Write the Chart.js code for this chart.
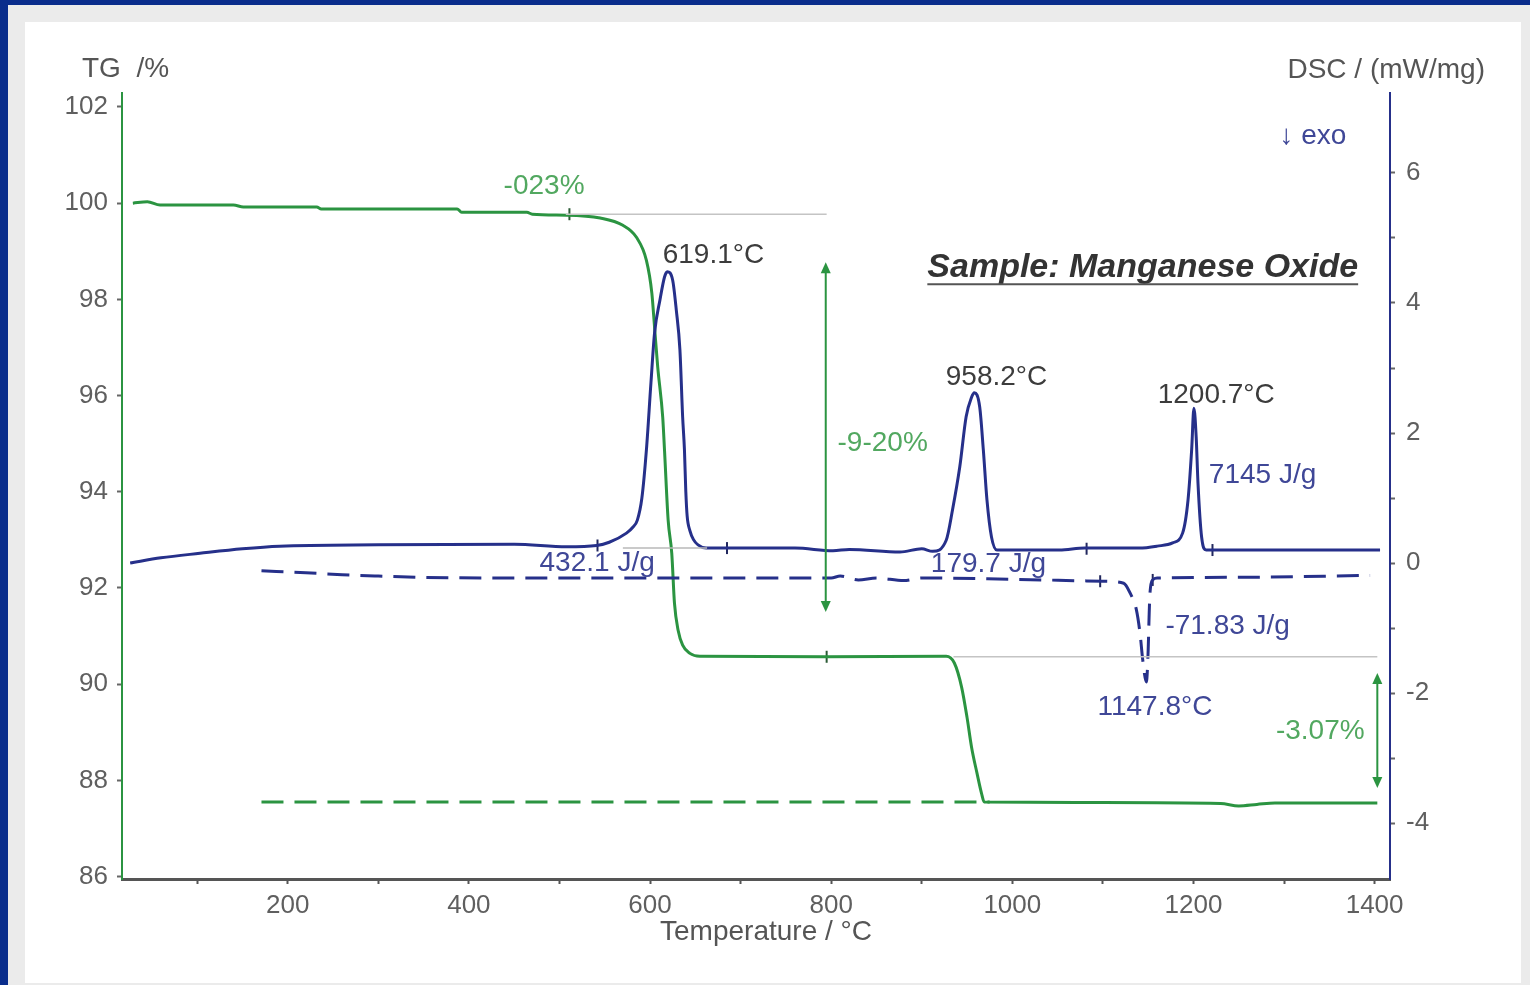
<!DOCTYPE html>
<html>
<head>
<meta charset="utf-8">
<title>TG / DSC - Manganese Oxide</title>
<script src="https://cdn.jsdelivr.net/npm/chart.js@4.4.1/dist/chart.umd.min.js"></script>
<style>
  html, body { margin: 0; padding: 0; }
  body { width: 1530px; height: 985px; background: #0a2d8c; position: relative; overflow: hidden; }
  #frame { position: absolute; left: 8px; top: 5px; width: 1522px; height: 980px; background: #ebebeb; }
  #panel { position: absolute; left: 25px; top: 22px; width: 1496px; height: 961px; background: #fff; }
  #chart { position: absolute; left: 0; top: 0; }
</style>
</head>
<body>
<div id="frame"></div>
<div id="panel"></div>
<canvas id="chart" width="1530" height="985"></canvas>
<script>
// --- data ---
var tgTemp = [29, 45, 59, 140, 151, 232, 237, 387, 392, 464, 470, 508, 545, 570, 585, 596, 602, 605, 608.5, 614, 616, 620, 624, 627, 631, 636, 644, 655, 793, 927, 936, 944, 950, 955, 961, 966, 969, 1100, 1230, 1250, 1270, 1290, 1403];
var tgVal  = [100.0, 100.03, 99.96, 99.96, 99.92, 99.92, 99.88, 99.88, 99.81, 99.81, 99.77, 99.75, 99.69, 99.54, 99.29, 98.81, 98.13, 97.42, 96.59, 95.55, 94.86, 93.41, 92.72, 91.68, 91.12, 90.81, 90.64, 90.58, 90.57, 90.58, 90.44, 89.94, 89.31, 88.69, 88.15, 87.73, 87.55, 87.54, 87.52, 87.47, 87.5, 87.53, 87.53];

var tgDashTemp = [171, 975];
var tgDashVal  = [87.55, 87.55];

var dscTemp = [26, 60, 103, 150, 191, 300, 450, 508, 541, 555, 574, 581, 586, 591, 596, 601, 605, 611, 616, 619, 625, 629, 633, 636, 638, 639.5, 641, 644, 648, 653, 662, 760, 802, 820, 876, 900, 912, 927, 934, 942, 949, 955, 958, 964, 968, 972, 977, 983, 1052, 1080, 1140, 1160, 1177, 1188, 1194, 1198, 1200.5, 1203, 1205, 1209, 1214, 1300, 1406];
var dscVal  = [0.0, 0.08, 0.15, 0.22, 0.26, 0.28, 0.29, 0.25, 0.27, 0.32, 0.46, 0.55, 0.66, 1.0, 1.74, 2.77, 3.54, 4.05, 4.40, 4.48, 4.35, 3.89, 3.28, 2.25, 1.74, 1.1, 0.72, 0.5, 0.36, 0.28, 0.23, 0.23, 0.19, 0.21, 0.17, 0.22, 0.18, 0.35, 0.82, 1.48, 2.25, 2.55, 2.62, 2.40, 1.74, 0.97, 0.40, 0.20, 0.20, 0.23, 0.23, 0.26, 0.31, 0.46, 0.97, 1.74, 2.38, 1.94, 1.23, 0.40, 0.20, 0.20, 0.20];

var dscDashTemp = [171, 220, 260, 300, 350, 450, 550, 650, 750, 800, 810, 830, 850, 880, 900, 1000, 1100, 1123, 1130, 1137, 1141, 1144, 1148, 1150, 1151, 1152, 1155, 1160, 1250, 1395];
var dscDashVal  = [-0.12, -0.15, -0.18, -0.20, -0.22, -0.23, -0.23, -0.23, -0.23, -0.23, -0.20, -0.26, -0.23, -0.27, -0.23, -0.25, -0.28, -0.31, -0.46, -0.72, -1.08, -1.49, -1.83, -1.34, -0.83, -0.46, -0.26, -0.23, -0.22, -0.19];

// thin grey evaluation baselines
var tgBase1Temp = [507, 795],  tgBase1Val = [99.77, 99.77];
var tgBase2Temp = [935, 1403], tgBase2Val = [90.57, 90.57];
var dscBaseTemp = [570, 663],  dscBaseVal = [0.23, 0.23];

// small evaluation markers on the curves
var tgMarkTemp  = [511, 795];
var tgMarkVal   = [99.77, 90.57];
var dscMarkTemp = [542, 685, 1082, 1221];
var dscMarkVal  = [0.27, 0.23, 0.22, 0.20];
var dscDashMarkTemp = [1097, 1155];
var dscDashMarkVal  = [-0.28, -0.26];

// axis ticks
var xTicks  = [100, 200, 300, 400, 500, 600, 700, 800, 900, 1000, 1100, 1200, 1300, 1400];
var tgTicks = [86, 88, 90, 92, 94, 96, 98, 100, 102];
var dscTicks = [-4, -3, -2, -1, 0, 1, 2, 3, 4, 5, 6];

// step arrows [temp, from, to] on TG axis
var tgSteps = [[794, 98.77, 91.50], [1403, 90.23, 87.84]];

// labels [text, temp, value, axis, colour, align]
var notes = [
  ['-023%', 483, 100.35, 'yL', '#52a860', 'center'],
  ['619.1°C', 614, 98.92, 'yL', '#3c3c3c', 'left'],
  ['-9-20%', 807, 95.01, 'yL', '#52a860', 'left'],
  ['-3.07%', 1389, 89.02, 'yL', '#52a860', 'right'],
  ['958.2°C', 926.5, 2.86, 'yR', '#3c3c3c', 'left'],
  ['1200.7°C', 1160.5, 2.58, 'yR', '#3c3c3c', 'left'],
  ['7145 J/g', 1217, 1.35, 'yR', '#3f4797', 'left'],
  ['432.1 J/g', 478, 0.0, 'yR', '#3f4797', 'left'],
  ['179.7 J/g', 910, -0.02, 'yR', '#3f4797', 'left'],
  ['-71.83 J/g', 1169, -0.98, 'yR', '#3f4797', 'left'],
  ['1147.8°C', 1094, -2.22, 'yR', '#3f4797', 'left'],
  ['↓ exo', 1295, 6.56, 'yR', '#3f4797', 'left']
];

function pts(xs, ys) {
  return xs.map(function(x, i) { return { x: x, y: ys[i] }; });
}

var GREEN = '#2b9441';
var NAVY = '#26308a';
var FONT = "'Liberation Sans', Arial, sans-serif";

Chart.defaults.font.family = FONT;
Chart.defaults.font.size = 26;
Chart.defaults.color = '#5a5a5a';

function arrowHead(ctx, x, y, dir) {
  ctx.beginPath();
  ctx.moveTo(x, y);
  ctx.lineTo(x - 5, y - dir * 11);
  ctx.lineTo(x + 5, y - dir * 11);
  ctx.closePath();
  ctx.fill();
}

var notesPlugin = {
  id: 'notes',
  afterDatasetsDraw: function(chart) {
    var ctx = chart.ctx;
    var sx = chart.scales.x, sl = chart.scales.yL, sr = chart.scales.yR;
    var area = chart.chartArea;
    ctx.save();

    // --- step arrows ---
    ctx.strokeStyle = GREEN;
    ctx.fillStyle = GREEN;
    ctx.lineWidth = 2;
    tgSteps.forEach(function(s) {
      var x = sx.getPixelForValue(s[0]);
      var y1 = sl.getPixelForValue(s[1]);
      var y2 = sl.getPixelForValue(s[2]);
      ctx.beginPath();
      ctx.moveTo(x, y1 + 4);
      ctx.lineTo(x, y2 - 4);
      ctx.stroke();
      arrowHead(ctx, x, y1, -1);
      arrowHead(ctx, x, y2, 1);
    });

    // --- annotation texts ---
    ctx.font = '28px ' + FONT;
    ctx.textBaseline = 'middle';
    notes.forEach(function(n) {
      var sc = n[3] === 'yL' ? sl : sr;
      ctx.fillStyle = n[4];
      ctx.textAlign = n[5];
      ctx.fillText(n[0], sx.getPixelForValue(n[1]), sc.getPixelForValue(n[2]));
    });

    // --- sample title ---
    var tx = sx.getPixelForValue(1144), ty = sr.getPixelForValue(4.55);
    ctx.font = 'italic bold 34px ' + FONT;
    ctx.fillStyle = '#333';
    ctx.textAlign = 'center';
    var title = 'Sample: Manganese Oxide';
    ctx.fillText(title, tx, ty);
    var w = ctx.measureText(title).width;
    ctx.strokeStyle = '#555';
    ctx.lineWidth = 2;
    ctx.beginPath();
    ctx.moveTo(tx - w / 2, ty + 17);
    ctx.lineTo(tx + w / 2, ty + 17);
    ctx.stroke();

    // --- axis titles ---
    ctx.font = '28px ' + FONT;
    ctx.fillStyle = '#555';
    ctx.textAlign = 'left';
    ctx.fillText('TG  /%', area.left - 40, area.top - 24);
    ctx.textAlign = 'right';
    ctx.fillText('DSC / (mW/mg)', area.right + 95, area.top - 23);
    ctx.textAlign = 'center';
    ctx.fillText('Temperature / °C', (area.left + area.right) / 2 + 10, area.bottom + 53);

    ctx.restore();
  }
};

var ctx = document.getElementById('chart').getContext('2d');

var chart = new Chart(ctx, {
  type: 'scatter',
  data: {
    datasets: [
      { data: pts(tgBase1Temp, tgBase1Val), yAxisID: 'yL', showLine: true, borderColor: '#c4c4c4', borderWidth: 1.5, pointRadius: 0 },
      { data: pts(tgBase2Temp, tgBase2Val), yAxisID: 'yL', showLine: true, borderColor: '#c4c4c4', borderWidth: 1.5, pointRadius: 0 },
      { data: pts(dscBaseTemp, dscBaseVal), yAxisID: 'yR', showLine: true, borderColor: '#b8b8b8', borderWidth: 1.5, pointRadius: 0 },
      { data: pts(tgDashTemp, tgDashVal), yAxisID: 'yL', showLine: true, borderColor: GREEN, borderWidth: 3, borderDash: [22, 11], pointRadius: 0 },
      { data: pts(dscDashTemp, dscDashVal), yAxisID: 'yR', showLine: true, borderColor: NAVY, borderWidth: 3, borderDash: [22, 11], pointRadius: 0, cubicInterpolationMode: 'monotone' },
      { data: pts(dscTemp, dscVal), yAxisID: 'yR', showLine: true, borderColor: NAVY, borderWidth: 3, pointRadius: 0, cubicInterpolationMode: 'monotone' },
      { data: pts(tgTemp, tgVal), yAxisID: 'yL', showLine: true, borderColor: GREEN, borderWidth: 3, pointRadius: 0, cubicInterpolationMode: 'monotone' },
      { data: pts(tgMarkTemp, tgMarkVal), yAxisID: 'yL', pointStyle: 'line', rotation: 90, pointRadius: 6, borderColor: '#2a5a34', borderWidth: 2 },
      { data: pts(dscMarkTemp, dscMarkVal), yAxisID: 'yR', pointStyle: 'line', rotation: 90, pointRadius: 6, borderColor: '#22285e', borderWidth: 2 },
      { data: pts(dscDashMarkTemp, dscDashMarkVal), yAxisID: 'yR', pointStyle: 'line', rotation: 90, pointRadius: 6, borderColor: '#22285e', borderWidth: 2 }
    ]
  },
  options: {
    responsive: false,
    animation: false,
    layout: { padding: { top: 93, left: 0, right: 0, bottom: 0 } },
    plugins: {
      legend: { display: false },
      tooltip: { enabled: false }
    },
    scales: {
      x: {
        type: 'linear',
        position: 'bottom',
        min: 17,
        max: 1417,
        afterBuildTicks: function(s) { s.ticks = xTicks.map(function(v) { return { value: v }; }); },
        afterFit: function(s) { s.height = 106; },
        border: { color: '#555', width: 3 },
        grid: { drawOnChartArea: false, tickLength: 5, tickColor: '#555', tickWidth: 2 },
        ticks: {
          padding: 6,
          maxRotation: 0,
          autoSkip: false,
          color: '#5f5f5f',
          callback: function(v) { return v % 200 === 0 ? v : ''; }
        }
      },
      yL: {
        type: 'linear',
        position: 'left',
        min: 85.95,
        max: 102.29,
        afterBuildTicks: function(s) { s.ticks = tgTicks.map(function(v) { return { value: v }; }); },
        afterFit: function(s) { s.width = 122; },
        border: { color: GREEN, width: 2 },
        grid: { drawOnChartArea: false, tickLength: 5, tickColor: '#666', tickWidth: 2 },
        ticks: { padding: 9, autoSkip: false, color: '#5f5f5f' }
      },
      yR: {
        type: 'linear',
        position: 'right',
        min: -4.86,
        max: 7.23,
        afterBuildTicks: function(s) { s.ticks = dscTicks.map(function(v) { return { value: v }; }); },
        afterFit: function(s) { s.width = 140; },
        border: { color: NAVY, width: 2 },
        grid: { drawOnChartArea: false, tickLength: 5, tickColor: '#666', tickWidth: 2 },
        ticks: {
          padding: 11,
          autoSkip: false,
          color: '#5f5f5f',
          callback: function(v) { return v % 2 === 0 ? v : ''; }
        }
      }
    }
  },
  plugins: [notesPlugin]
});
</script>
</body>
</html>
